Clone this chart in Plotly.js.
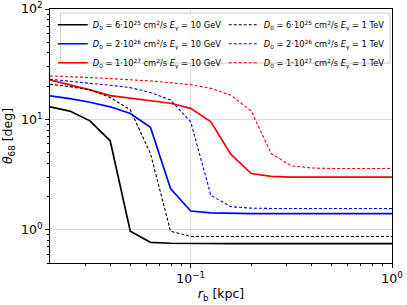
<!DOCTYPE html>
<html><head><meta charset="utf-8">
<script src="https://cdn.plot.ly/plotly-3.0.1.min.js"></script>
<style>html,body{margin:0;padding:0;background:#fff}#c{width:407px;height:305px}</style>
</head><body><div id="c"></div>
<script>
const rb = [0.02, 0.0251, 0.0316, 0.0398, 0.0501, 0.0631, 0.0794, 0.1, 0.126, 0.158, 0.2, 0.251, 0.316, 0.398, 0.501, 0.631, 0.794, 1.0];

const black10GeV = [13.0, 11.9, 9.7, 6.4, 0.97, 0.77, 0.755, 0.75, 0.75, 0.75, 0.75, 0.75, 0.75, 0.75, 0.75, 0.75, 0.75, 0.75];
const blue10GeV  = [16.3, 15.4, 14.3, 13.0, 11.3, 8.5, 2.36, 1.48, 1.42, 1.40, 1.40, 1.40, 1.40, 1.40, 1.40, 1.40, 1.40, 1.40];
const red10GeV   = [22.8, 20.6, 18.5, 16.4, 15.5, 14.8, 14.0, 12.6, 9.5, 4.84, 3.23, 3.05, 3.0, 3.0, 3.0, 3.0, 3.0, 3.0];
const black1TeV  = [20.8, 19.8, 18.5, 15.8, 12.2, 4.9, 0.97, 0.87, 0.87, 0.87, 0.87, 0.87, 0.87, 0.87, 0.87, 0.87, 0.87, 0.87];
const blue1TeV   = [23.1, 22.3, 21.2, 20.4, 19.4, 17.5, 15.0, 9.5, 2.05, 1.62, 1.57, 1.56, 1.56, 1.56, 1.56, 1.56, 1.56, 1.56];
const red1TeV    = [24.8, 24.2, 23.9, 23.4, 22.9, 22.3, 21.5, 20.6, 19.1, 16.6, 11.9, 4.9, 3.79, 3.63, 3.59, 3.59, 3.59, 3.59];

const names = [
  "<i>D</i><sub>0</sub> = 6·10<sup>25</sup> cm<sup>2</sup>/s <i>E</i><sub>γ</sub> = 10 GeV",
  "<i>D</i><sub>0</sub> = 6·10<sup>25</sup> cm<sup>2</sup>/s <i>E</i><sub>γ</sub> = 1 TeV",
  "<i>D</i><sub>0</sub> = 2·10<sup>26</sup> cm<sup>2</sup>/s <i>E</i><sub>γ</sub> = 10 GeV",
  "<i>D</i><sub>0</sub> = 2·10<sup>26</sup> cm<sup>2</sup>/s <i>E</i><sub>γ</sub> = 1 TeV",
  "<i>D</i><sub>0</sub> = 1·10<sup>27</sup> cm<sup>2</sup>/s <i>E</i><sub>γ</sub> = 10 GeV",
  "<i>D</i><sub>0</sub> = 1·10<sup>27</sup> cm<sup>2</sup>/s <i>E</i><sub>γ</sub> = 1 TeV"
];

const xTickVals = [0.1, 1];
const xTickText = ["10<sup>−1</sup>", "10<sup>0</sup>"];
const xMinor = [0.03, 0.04, 0.05, 0.06, 0.07, 0.08, 0.09, 0.2, 0.3, 0.4, 0.5, 0.6, 0.7, 0.8, 0.9];
const yTickVals = [1, 10, 100];
const yTickText = ["10<sup>0</sup>", "10<sup>1</sup>", "10<sup>2</sup>"];
const yMinor = [0.5, 0.6, 0.7, 0.8, 0.9, 2, 3, 4, 5, 6, 7, 8, 9, 20, 30, 40, 50, 60, 70, 80, 90];

const series = [
  {y: black10GeV, c: '#000000', d: 'solid', lg: 'legend'},
  {y: blue10GeV,  c: '#0000ff', d: 'solid', lg: 'legend'},
  {y: red10GeV,   c: '#ff0000', d: 'solid', lg: 'legend'},
  {y: black1TeV,  c: '#000000', d: 'dash', lg: 'legend2'},
  {y: blue1TeV,   c: '#0000ff', d: 'dash', lg: 'legend2'},
  {y: red1TeV,    c: '#ff0000', d: 'dash', lg: 'legend2'}
];
const nameIdx = [0, 2, 4, 1, 3, 5];

const traces = series.map((s, i) => ({
  x: rb, y: s.y, name: names[nameIdx[i]], type: 'scatter', mode: 'lines', legend: s.lg,
  line: {color: s.c, dash: s.d === 'dash' ? '3px,2px' : 'solid', width: s.d === 'dash' ? 1.1 : 1.7}
}));

const font = {family: 'DejaVu Sans', color: '#000'};
const legendBase = {
  orientation: 'v', yanchor: 'top', xanchor: 'left', y: 0.995,
  bgcolor: 'rgba(0,0,0,0)', borderwidth: 0, itemwidth: 30,
  font: Object.assign({size: 8.3}, font), tracegroupgap: 0
};
const layout = {
  width: 407, height: 305,
  margin: {l: 50, r: 15, t: 9, b: 42},
  paper_bgcolor: '#fff', plot_bgcolor: '#fff',
  font: Object.assign({size: 12}, font),
  showlegend: true,
  legend: Object.assign({}, legendBase, {x: 0.008}),
  legend2: Object.assign({}, legendBase, {x: 0.508}),
  shapes: [{type: 'rect', xref: 'paper', yref: 'paper', x0: 0.031, x1: 0.994, y0: 0.787, y1: 0.984,
            line: {color: '#cccccc', width: 1}, fillcolor: 'rgba(255,255,255,0.8)', layer: 'above'}],
  xaxis: {
    type: 'log', range: [Math.log10(0.02), 0],
    tickmode: 'array', tickvals: xTickVals, ticktext: xTickText,
    ticks: 'outside', ticklen: 4, tickcolor: '#000', tickwidth: 1,
    showgrid: true, gridcolor: '#dcdcdc', gridwidth: 1.2,
    showline: true, linecolor: '#000', linewidth: 1, mirror: true,
    zeroline: false,
    tickfont: Object.assign({size: 12.5}, font),
    minor: {tickmode: 'array', tickvals: xMinor, ticks: 'outside', ticklen: 2, tickcolor: '#000', showgrid: false},
    title: {text: '<i>r</i><sub>b</sub> [kpc]', font: Object.assign({size: 12.5}, font), standoff: 2}
  },
  yaxis: {
    type: 'log', range: [Math.log10(0.5), 2],
    tickmode: 'array', tickvals: yTickVals, ticktext: yTickText,
    ticks: 'outside', ticklen: 4, tickcolor: '#000', tickwidth: 1,
    showgrid: true, gridcolor: '#dcdcdc', gridwidth: 1.2,
    showline: true, linecolor: '#000', linewidth: 1, mirror: true,
    zeroline: false,
    tickfont: Object.assign({size: 12.5}, font),
    minor: {tickmode: 'array', tickvals: yMinor, ticks: 'outside', ticklen: 2, tickcolor: '#000', showgrid: false},
    title: {text: '<i>θ</i><sub>68</sub> [deg]', font: Object.assign({size: 12.5}, font), standoff: 5}
  }
};
Plotly.newPlot('c', traces, layout, {displayModeBar: false, staticPlot: true});
</script></body></html>
